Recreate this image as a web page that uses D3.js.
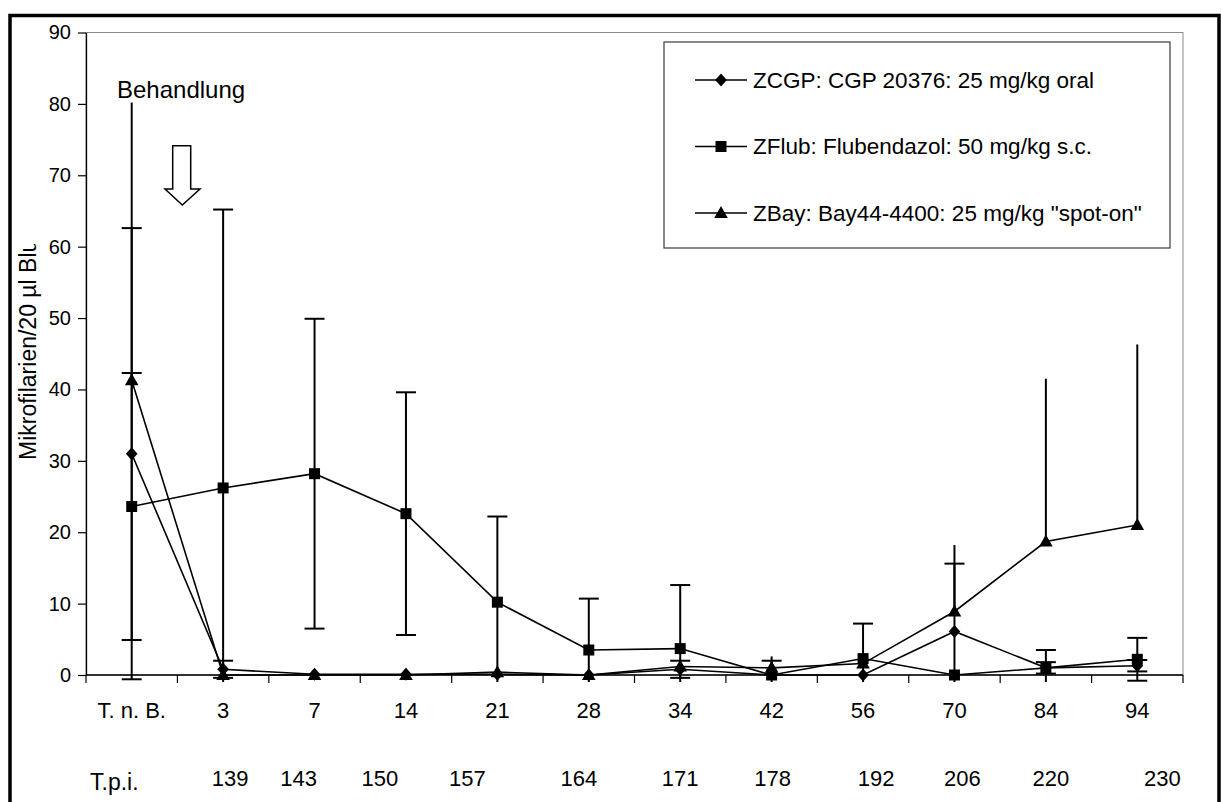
<!DOCTYPE html>
<html>
<head>
<meta charset="utf-8">
<script src="https://cdn.jsdelivr.net/npm/d3@7"></script>
<style>
  body { margin: 0; background: #fff; }
  text { font-family: "Liberation Sans", Arial, Helvetica, sans-serif; fill: #000; }
</style>
</head>
<body>
<svg id="svg1" width="1221" height="802"></svg>
<script>
// ---- data ----
var categories = ["T. n. B.", "3", "7", "14", "21", "28", "34", "42", "56", "70", "84", "94"]
var tpiLabels  = ["139", "143", "150", "157", "164", "171", "178", "192", "206", "220", "230"]
var yTicks = [0, 10, 20, 30, 40, 50, 60, 70, 80, 90]
var legendNames = ["ZCGP: CGP 20376: 25 mg/kg oral",
                   "ZFlub: Flubendazol: 50 mg/kg s.c.",
                   "ZBay: Bay44-4400: 25 mg/kg \"spot-on\""]

var zcgp    = [31.0, 0.8, 0.1, 0.1, 0.1, 0.0, 0.8, 0.0, 0.0, 6.1, 1.0, 1.3]
var zcgpSd  = [31.6, 1.2, 0.0, 0.0, 0.0, 0.0, 1.2, 2.0, 0.0, 9.5, 0.8, 0.8]
var zflub   = [23.6, 26.2, 28.2, 22.6, 10.2, 3.5, 3.7, 0.0, 2.3, 0.0, 1.0, 2.2]
var zflubSd = [18.7, 39.0, 21.7, 17.0, 12.0, 7.2, 8.9, 0.0, 4.9, 0.0, 2.5, 3.0]
var zbay    = [41.3, 0.0, 0.0, 0.0, 0.4, 0.0, 1.2, 1.0, 1.6, 8.9, 18.7, 21.0]
var zbaySd  = [38.9, 0.0, 0.0, 0.0, 0.0, 0.0, 0.6, 1.6, 0.0, 9.3, 22.8, 25.3]

// ---- layout ----
var plot = {left: 86, top: 32.5, right: 1183, bottom: 675}
var clipY = plot.bottom + 7   // error bars below this are cut off
// small horizontal shifts of the T.p.i. labels against the band centres
var tpiShift = [7, -16, -26, -30, -10, 0, 1, 13, 8, 5, 25]

var svg = d3.select("#svg1")

// outer frame
svg.append("rect")
  .attr("x", 10).attr("y", 15.5)
  .attr("width", 1209).attr("height", 800)
  .style("fill", "white")
  .style("stroke", "black")
  .style("stroke-width", 3.5)

var xb = d3.scaleBand()
  .domain(categories)
  .range([plot.left, plot.right])
  .padding(0)
var y = d3.scaleLinear()
  .domain([0, 90])
  .range([plot.bottom, plot.top])
var cx = function(c){ return xb(c) + xb.bandwidth() / 2 }

// plot area
svg.append("rect")
  .attr("x", plot.left).attr("y", plot.top)
  .attr("width", plot.right - plot.left)
  .attr("height", plot.bottom - plot.top)
  .style("fill", "white")
  .style("stroke", "#8a8a8a")
  .style("stroke-width", 1)

// y axis
var yAxis = svg.append("g")
  .attr("transform", `translate(${plot.left},0)`)
  .call(d3.axisLeft(y).tickValues(yTicks).tickSize(8).tickSizeOuter(0).tickPadding(7))
yAxis.select(".domain").style("stroke", "black").style("stroke-width", 1.3)
yAxis.selectAll(".tick line").style("stroke", "black").style("stroke-width", 1.2)
yAxis.selectAll("text").style("font-size", "20px")

// x axis: labels centred in the bands, ticks on the band edges
var xAxis = svg.append("g")
  .attr("transform", `translate(0,${plot.bottom})`)
  .call(d3.axisBottom(xb).tickSize(0).tickPadding(27))
xAxis.select(".domain").remove()
xAxis.selectAll("text").style("font-size", "22px")

svg.append("line")
  .attr("x1", plot.left).attr("x2", plot.right)
  .attr("y1", plot.bottom).attr("y2", plot.bottom)
  .style("stroke", "black").style("stroke-width", 1.5)

svg.selectAll(".xtick")
  .data(d3.range(categories.length + 1))
  .enter()
  .append("line")
    .attr("class", "xtick")
    .attr("x1", i => plot.left + i * xb.bandwidth())
    .attr("x2", i => plot.left + i * xb.bandwidth())
    .attr("y1", plot.bottom)
    .attr("y2", plot.bottom + 8)
    .style("stroke", "black")
    .style("stroke-width", 1.2)

// second row of day labels (T.p.i.)
svg.append("text")
  .attr("x", 90).attr("y", 790)
  .style("font-size", "23px")
  .text("T.p.i.")
svg.selectAll(".tpi")
  .data(tpiLabels)
  .enter()
  .append("text")
    .attr("class", "tpi")
    .attr("x", (d, i) => cx(categories[i + 1]) + tpiShift[i])
    .attr("y", 786)
    .style("font-size", "22px")
    .style("text-anchor", "middle")
    .text(d => d)

// y axis title (cut off at the top like in the original)
svg.append("clipPath").attr("id", "ytclip")
  .append("rect").attr("x", 0).attr("y", 244).attr("width", 80).attr("height", 560)
svg.append("g")
  .attr("clip-path", "url(#ytclip)")
  .append("text")
    .attr("transform", "translate(36,460) rotate(-90)")
    .style("font-size", "23px")
    .text("Mikrofilarien/20 µl Blut")

// marker shapes
var shapes = {
  diamond:  "M0,-6.5L5.8,0L0,6.5L-5.8,0Z",
  square:   "M-5.5,-5.5h11v11h-11Z",
  triangle: "M0,-7L6.8,5L-6.8,5Z"
}

var series = [
  {name: legendNames[0], mean: zcgp,  sd: zcgpSd,  shape: "diamond",  plusOnly: false, caps: true},
  {name: legendNames[1], mean: zflub, sd: zflubSd, shape: "square",   plusOnly: false, caps: true},
  {name: legendNames[2], mean: zbay,  sd: zbaySd,  shape: "triangle", plusOnly: true,  caps: false}
]

// error bars
series.forEach(function(s){
  var bars = s.mean.map((m, i) => ({c: categories[i], m: m, sd: s.sd[i]})).filter(d => d.sd > 0)
  var g = svg.append("g").attr("class", "errbars")
  g.selectAll(".eb")
    .data(bars)
    .enter()
    .append("line")
      .attr("x1", d => cx(d.c)).attr("x2", d => cx(d.c))
      .attr("y1", d => y(d.m + d.sd))
      .attr("y2", d => Math.min(s.plusOnly ? y(d.m) : y(d.m - d.sd), clipY))
      .style("stroke", "black").style("stroke-width", 2)
  if (s.caps) {
    var ends = []
    bars.forEach(function(d){
      ends.push({c: d.c, v: d.m + d.sd})
      if (!s.plusOnly && y(d.m - d.sd) <= clipY) ends.push({c: d.c, v: d.m - d.sd})
    })
    g.selectAll(".cap")
      .data(ends)
      .enter()
      .append("line")
        .attr("x1", d => cx(d.c) - 10).attr("x2", d => cx(d.c) + 10)
        .attr("y1", d => y(d.v)).attr("y2", d => y(d.v))
        .style("stroke", "black").style("stroke-width", 2)
  }
})

// lines
var line = d3.line()
  .x((d, i) => cx(categories[i]))
  .y(d => y(d))
series.forEach(function(s){
  svg.append("path")
    .datum(s.mean)
    .attr("d", line)
    .style("fill", "none")
    .style("stroke", "black")
    .style("stroke-width", 1.6)
})

// markers
series.forEach(function(s){
  svg.selectAll(null)
    .data(s.mean)
    .enter()
    .append("path")
      .attr("d", shapes[s.shape])
      .attr("transform", (d, i) => `translate(${cx(categories[i])},${y(d)})`)
      .style("fill", "black")
})

// legend
var leg = svg.append("g").attr("class", "legend")
leg.append("rect")
  .attr("x", 664).attr("y", 42)
  .attr("width", 506).attr("height", 206)
  .style("fill", "white")
  .style("stroke", "#3a3a3a")
  .style("stroke-width", 1.2)
var rows = leg.selectAll(".row")
  .data(series)
  .enter()
  .append("g")
    .attr("class", "row")
    .attr("transform", (d, i) => `translate(0,${80 + i * 66.5})`)
rows.append("line")
  .attr("x1", 695).attr("x2", 747)
  .attr("y1", 0).attr("y2", 0)
  .style("stroke", "black").style("stroke-width", 1.6)
rows.append("path")
  .attr("d", d => shapes[d.shape])
  .attr("transform", "translate(721,0)")
  .style("fill", "black")
rows.append("text")
  .attr("x", 753).attr("y", 7.5)
  .style("font-size", "22.5px")
  .text(d => d.name)

// annotation
svg.append("text")
  .attr("x", 117).attr("y", 98)
  .style("font-size", "24px")
  .text("Behandlung")
svg.append("path")
  .attr("d", "M172.7,145.7H190.7V189H200L182.3,205L165,189H172.7Z")
  .style("fill", "white")
  .style("stroke", "black")
  .style("stroke-width", 1.5)
</script>
</body>
</html>
